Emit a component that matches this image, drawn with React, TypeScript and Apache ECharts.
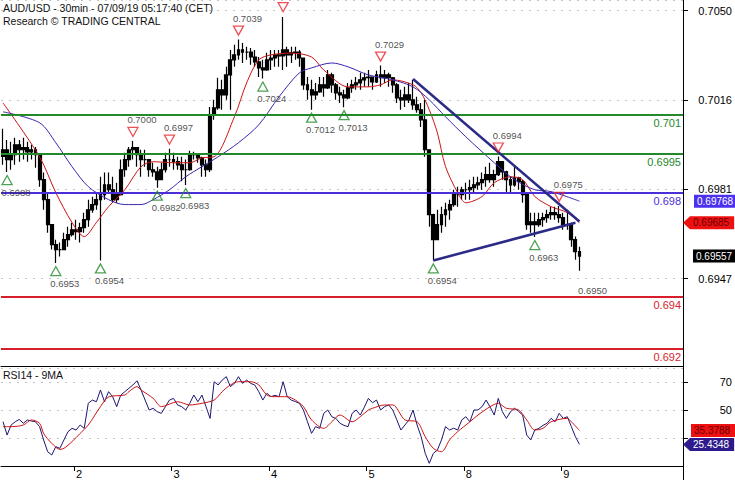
import { useEffect, useRef } from 'react';
import * as echarts from 'echarts';

// ---------- data ----------
const categoryCount = 168; // hourly slots (two 30-min bars each)
const dayTickIndex = [18, 42, 66, 90, 114, 138];
const dayTickLabel = ['2', '3', '4', '5', '8', '9'];

const firstOpen = 0.6994;
const priceHigh = [
  0.70047, 0.70004, 0.69997, 0.70012, 0.70004, 0.70012, 0.69997, 0.69985, 0.69977, 0.6995,
  0.69878, 0.69801, 0.6968, 0.6962, 0.69609, 0.69647, 0.6967, 0.69685, 0.69697, 0.69685,
  0.69724, 0.69774, 0.69785, 0.69801, 0.69862, 0.69878, 0.69878, 0.69862, 0.69839, 0.69928,
  0.69954, 0.69977, 0.7, 0.69977, 0.69966, 0.69966, 0.69928, 0.69916, 0.69901, 0.69916,
  0.69954, 0.6997, 0.69954, 0.69939, 0.69939, 0.69928, 0.69962, 0.69958, 0.6995, 0.69939,
  0.69928, 0.70131, 0.70158, 0.70243, 0.70235, 0.70285, 0.7035, 0.7037, 0.7039, 0.70377,
  0.70362, 0.70358, 0.7035, 0.70323, 0.70312, 0.70339, 0.7035, 0.7035, 0.7035, 0.70477,
  0.70362, 0.70362, 0.70362, 0.7035, 0.7032, 0.70246, 0.70235, 0.70223, 0.70246, 0.70246,
  0.70273, 0.70262, 0.70223, 0.70208, 0.70197, 0.70223, 0.70235, 0.70246, 0.70262, 0.70262,
  0.70273, 0.70246, 0.7027, 0.7029, 0.70273, 0.70262, 0.70246, 0.70223, 0.70197, 0.70208,
  0.70223, 0.70235, 0.7017, 0.70146, 0.70158, 0.69966, 0.6972, 0.69735, 0.69747, 0.69762,
  0.69774, 0.69812, 0.69824, 0.69824, 0.69839, 0.69851, 0.69862, 0.69862, 0.69878, 0.69901,
  0.69916, 0.69889, 0.6994, 0.69916, 0.69885, 0.69862, 0.69901, 0.69862, 0.69851, 0.69795,
  0.69724, 0.69724, 0.69724, 0.69724, 0.69735, 0.69747, 0.69747, 0.6975, 0.69724, 0.69735,
  0.69685, 0.69632, 0.69593,
];
const priceLow = [
  0.69908, 0.6988, 0.69889, 0.69908, 0.6992, 0.69928, 0.6992, 0.69928, 0.69897, 0.69824,
  0.69735, 0.69647, 0.69582, 0.6953, 0.69555, 0.69582, 0.69593, 0.69632, 0.6962, 0.69609,
  0.69647, 0.6967, 0.69724, 0.69735, 0.6954, 0.69774, 0.69801, 0.69762, 0.69762, 0.6979,
  0.69862, 0.69901, 0.69928, 0.69901, 0.69862, 0.69901, 0.69862, 0.69862, 0.6982, 0.69851,
  0.69878, 0.69901, 0.69889, 0.69889, 0.69845, 0.6983, 0.69885, 0.69928, 0.69916, 0.69862,
  0.69862, 0.6988, 0.70081, 0.7012, 0.7012, 0.70158, 0.7012, 0.70285, 0.70312, 0.703,
  0.70312, 0.70293, 0.70285, 0.70246, 0.7024, 0.7027, 0.70273, 0.70285, 0.70285, 0.70273,
  0.70285, 0.703, 0.70312, 0.70285, 0.70197, 0.70158, 0.7012, 0.70158, 0.70185, 0.7017,
  0.702, 0.70185, 0.70158, 0.70146, 0.7013, 0.7016, 0.70185, 0.70197, 0.70197, 0.70208,
  0.70208, 0.70197, 0.70223, 0.70208, 0.70223, 0.70208, 0.70185, 0.70146, 0.7012, 0.70131,
  0.70146, 0.7012, 0.70108, 0.70054, 0.69939, 0.6967, 0.6954, 0.6962, 0.69647, 0.6967,
  0.69697, 0.69747, 0.69747, 0.69774, 0.69774, 0.69774, 0.69801, 0.69812, 0.69812, 0.69824,
  0.69839, 0.69824, 0.69865, 0.69851, 0.69801, 0.69801, 0.69824, 0.69812, 0.69762, 0.69658,
  0.69647, 0.6963, 0.6967, 0.6967, 0.69685, 0.69697, 0.69697, 0.69685, 0.69658, 0.69658,
  0.69593, 0.69543, 0.695,
];
const priceClose = [
  0.69966, 0.69928, 0.69947, 0.69985, 0.69966, 0.69974, 0.69958, 0.69966, 0.69947, 0.69851,
  0.69774, 0.69678, 0.69601, 0.69582, 0.69582, 0.6962, 0.69639, 0.69658, 0.69651, 0.69666,
  0.69697, 0.69735, 0.69755, 0.69774, 0.69793, 0.69831, 0.69812, 0.69774, 0.69793, 0.69889,
  0.69928, 0.69966, 0.69974, 0.69947, 0.69928, 0.69928, 0.69889, 0.69881, 0.69851, 0.69889,
  0.69928, 0.69928, 0.6992, 0.69908, 0.69889, 0.69889, 0.6995, 0.69947, 0.69935, 0.69908,
  0.69889, 0.701, 0.70127, 0.70197, 0.70177, 0.70254, 0.70312, 0.70331, 0.7035, 0.70342,
  0.70342, 0.70323, 0.70304, 0.70281, 0.70273, 0.70312, 0.70319, 0.70331, 0.70327, 0.7035,
  0.70331, 0.70339, 0.70342, 0.70319, 0.70216, 0.70197, 0.70177, 0.70189, 0.70216, 0.70204,
  0.70254, 0.70216, 0.70185, 0.70177, 0.70166, 0.70204, 0.70216, 0.70223, 0.70235, 0.70243,
  0.70246, 0.70227, 0.70254, 0.70243, 0.70254, 0.70243, 0.70216, 0.70166, 0.70158, 0.70177,
  0.70158, 0.70139, 0.7012, 0.70081, 0.69966, 0.69716, 0.6962, 0.69678, 0.69716, 0.69735,
  0.69755, 0.69793, 0.69793, 0.69812, 0.69812, 0.6982, 0.69831, 0.69839, 0.69851, 0.6987,
  0.69851, 0.6987, 0.6992, 0.69881, 0.69851, 0.69831, 0.69858, 0.69843, 0.69793, 0.69678,
  0.69689, 0.69678, 0.69697, 0.69705, 0.69716, 0.69724, 0.69716, 0.69705, 0.69678, 0.69678,
  0.6962, 0.69574, 0.69557,
];

// moving averages, [slot, value]
const redMA = [
  [0, 0.70146], [9, 0.69939], [13, 0.69801], [17, 0.69686], [20, 0.69632], [23, 0.69686],
  [26, 0.69747], [30, 0.69812], [34, 0.69901], [37, 0.6992], [42, 0.69916], [46, 0.69916],
  [49, 0.69935], [52, 0.69939], [57, 0.70093], [60, 0.70223], [63, 0.70312], [66, 0.70331],
  [71, 0.70338], [76, 0.70323], [79, 0.70273], [85, 0.70208], [90, 0.70208], [93, 0.70216],
  [96, 0.70235], [101, 0.70216], [103, 0.70185], [105, 0.7012], [107, 0.70031], [109, 0.69901],
  [112, 0.69801], [114, 0.69762], [118, 0.69786], [121, 0.69839], [125, 0.69862], [128, 0.69851],
  [131, 0.69786], [135, 0.69747], [139, 0.69724], [142, 0.69685],
];
const blueMA = [
  [0, 0.70112], [9, 0.7007], [13, 0.69993], [17, 0.69901], [21, 0.69824], [26, 0.69774],
  [30, 0.69755], [34, 0.69755], [37, 0.69774], [41, 0.69812], [45, 0.69862], [49, 0.69901],
  [53, 0.69939], [58, 0.69993], [63, 0.70062], [68, 0.7017], [73, 0.70262], [76, 0.70281],
  [81, 0.703], [85, 0.70285], [90, 0.70254], [96, 0.70235], [101, 0.70208], [105, 0.70158],
  [109, 0.70093], [114, 0.70016], [121, 0.69916], [126, 0.69851], [131, 0.69812], [135, 0.69805],
  [142, 0.69768],
];

// swing markers (the 0.7048 label sits above the top edge in the reference, so it is not shown)
const lowMarkIndex = [1, 13, 24, 38, 45, 64, 76, 84, 106, 131];
const lowMarkValue = [0.6988, 0.6953, 0.6954, 0.6982, 0.6983, 0.7024, 0.7012, 0.7013, 0.6954, 0.6963];
const highMarkIndex = [32, 41, 58, 69, 93, 122, 137];
const highMarkValue = [0.7, 0.6997, 0.7039, 0.7048, 0.7029, 0.6994, 0.6975];
const highMarkLabelShown = [true, true, true, false, true, true, true];
const bareMarkIndex = [143];
const bareMarkValue = [0.695];

// support / resistance levels
const greenLevels = [0.701, 0.6995];
const blueLevels = [0.698];
const redLevels = [0.694, 0.692];

// trend lines [slot, value]
const trendDown = [[101, 0.70238], [142, 0.6969]];
const trendUp = [[106, 0.6954], [141, 0.69685]];

// RSI14 and its 9MA
const rsi = [
  41.6, 32.1, 39.3, 41.6, 43.3, 40.5, 42.9, 42.1, 41.6, 38.1,
  28.6, 20.2, 17.9, 23.8, 22.6, 28.6, 34.5, 36.9, 35.7, 39.3,
  36.9, 54.8, 57.1, 55.9, 64.3, 55.9, 63.1, 59.5, 52.4, 60.7,
  63.1, 65.5, 67.9, 70.9, 64.3, 57.1, 50, 51.2, 48.8, 47.6,
  52.4, 57.1, 58.3, 53.6, 52.4, 50, 54.8, 60.7, 55.9, 60.7,
  52.4, 44, 70.2, 67.9, 71.4, 73.8, 66.7, 69, 73.8, 69,
  71.4, 69, 67.9, 63.1, 57.1, 61.9, 59.5, 60.5, 59.5, 70.2,
  59.5, 57.1, 56, 54.8, 50, 41.6, 33.3, 38.1, 36.9, 47.6,
  50, 45.2, 44, 40.5, 39, 38.1, 47.6, 50, 46.4, 52,
  58.3, 55.2, 57.1, 50, 52.4, 53.6, 50, 43, 35.7, 39.3,
  42.9, 50, 39.3, 30.9, 19, 11.9, 19, 21.4, 28.6, 38.1,
  35.7, 37, 35.7, 42.9, 45.2, 41.6, 50, 50, 52.4, 57.1,
  52, 46.4, 58.3, 48.8, 44, 48.8, 51.2, 49, 46.4, 32.1,
  28.6, 35.7, 36.9, 39, 40.5, 44, 41.6, 47.6, 44, 45.2,
  38.1, 30.9, 25.4348,
];
const rsiMA = [
  [0, 38.1], [2, 38.1], [5, 39.3], [7, 42.9], [9, 40.5], [10, 33.3], [12, 26.2], [14, 21.9],
  [15, 22.6], [17, 27.4], [19, 33.3], [21, 39.3], [24, 52.4], [26, 59.3], [30, 60.7], [31, 63.1],
  [33, 66.7], [34, 64.3], [37, 58.3], [39, 52.4], [43, 55.9], [46, 53.6], [49, 54.8], [52, 57.1],
  [54, 63.1], [56, 67.9], [58, 70.2], [61, 70.2], [63, 67.9], [65, 60.7], [67, 59.5], [70, 59.5],
  [72, 57.1], [74, 52.4], [76, 42.9], [79, 36.9], [81, 41.6], [83, 46.4], [86, 41.6], [88, 45.2],
  [90, 50], [91, 51.2], [94, 53.6], [96, 53.6], [99, 42.9], [102, 41.6], [104, 30.9], [106, 22.6],
  [108, 20.2], [110, 28.6], [112, 34.5], [115, 41.6], [117, 46.4], [120, 52.4], [122, 54.8],
  [124, 51.2], [127, 50], [129, 42.9], [131, 35.7], [133, 36.9], [135, 41.6], [139, 44],
  [140, 41.6], [142, 35.3788],
];

// axis ticks
const priceTickInterval = 0.6947 / 202;
const priceMin = priceTickInterval * 201;
const priceMax = 0.705423;
const rsiTickValues = [30, 50, 70];
const rsiLabelValues = [50, 70];

// ---------- styling ----------
const FONT = 'Liberation Sans';
const GRID_LEFT = 1;
const GRID_WIDTH = 682;
const AXIS_X = GRID_LEFT + GRID_WIDTH;
const GREEN = '#23892a';
const LEVEL_BLUE = '#4a2fd8';
const RED = '#d81e2a';
const TREND = '#2b2a86';
const GRID_LINE = { color: '#c4c4c4', type: [2, 6] as number[], width: 1 };

export default function App() {
  const ref = useRef<HTMLDivElement>(null);

  useEffect(() => {
    document.body.style.margin = '0';
    const chart = echarts.init(ref.current!, undefined, { renderer: 'svg' });
    const categories = Array.from({ length: categoryCount }, (_, i) => String(i));
    const candles = priceClose.map((c, i) => [
      i === 0 ? firstOpen : priceClose[i - 1],
      c,
      priceLow[i],
      priceHigh[i],
    ]);
    const lastClose = priceClose[priceClose.length - 1];
    const lastRed = redMA[redMA.length - 1][1];
    const lastBlue = blueMA[blueMA.length - 1][1];
    const lastRsi = rsi[rsi.length - 1];
    const lastRsiMA = rsiMA[rsiMA.length - 1][1];

    const levelItem = (v: number, color: string) => ({
      yAxis: v,
      lineStyle: { color, width: 2, type: 'solid' },
      label: {
        show: true,
        position: 'insideEndBottom',
        formatter: () => String(v),
        color,
        fontSize: 11,
        fontFamily: FONT,
        distance: [2, 3],
      },
    });
    const trendItem = (pts: number[][]) => [
      { coord: pts[0], lineStyle: { color: TREND, width: 2.5, type: 'solid' }, label: { show: false } },
      { coord: pts[1] },
    ];
    const boxItem = (
      v: number,
      text: string,
      bg: string,
      fg: string,
      distance: number,
    ) => ({
      yAxis: v,
      lineStyle: { color: 'rgba(255,255,255,0)', width: 1, type: 'solid' },
      label: {
        show: true,
        position: 'end',
        distance,
        formatter: () => text,
        backgroundColor: bg,
        color: fg,
        opacity: 1,
        fontSize: 10,
        fontFamily: FONT,
        lineHeight: 11,
        padding: [1, 5, 1, 3],
      },
    });

    const markerLabel = (pos: 'top' | 'bottom') => ({
      show: true,
      position: pos,
      distance: 2,
      offset: [9, 0],
      formatter: (p: any) => p.value[1].toFixed(4),
      fontSize: 9.5,
      fontFamily: FONT,
      color: '#222',
    });

    const option: any = {
      animation: false,
      backgroundColor: '#fff',
      textStyle: { fontFamily: FONT },
      title: [
        {
          text: 'AUD/USD - 30min - 07/09/19 05:17:40 (CET)',
          subtext: 'Research © TRADING CENTRAL',
          left: 3,
          top: 2,
          padding: 0,
          itemGap: 1,
          textStyle: { fontSize: 10.5, fontWeight: 'normal', color: '#111', fontFamily: FONT, lineHeight: 12 },
          subtextStyle: { fontSize: 10.5, color: '#111', fontFamily: FONT, lineHeight: 12 },
        },
        {
          text: 'RSI14 - 9MA',
          left: 3,
          top: 369,
          padding: 0,
          textStyle: { fontSize: 10.5, fontWeight: 'normal', color: '#111', fontFamily: FONT },
        },
      ],
      grid: [
        { left: GRID_LEFT, top: 0, width: GRID_WIDTH, height: 368 },
        { left: GRID_LEFT, top: 366, width: GRID_WIDTH, height: 100 },
      ],
      xAxis: [
        { type: 'category', gridIndex: 0, data: categories, show: false },
        {
          type: 'category',
          gridIndex: 1,
          data: categories,
          position: 'bottom',
          axisLine: { show: true, lineStyle: { color: '#000', width: 1 } },
          axisTick: {
            show: true,
            length: 5,
            interval: (i: number) => dayTickIndex.includes(i),
            lineStyle: { color: '#000' },
          },
          axisLabel: {
            interval: (i: number) => dayTickIndex.includes(i),
            formatter: (_v: string, i: number) => dayTickLabel[dayTickIndex.indexOf(i)] ?? '',
            align: 'left',
            margin: 2,
            fontSize: 11,
            color: '#000',
            fontFamily: FONT,
          },
          splitLine: { show: false },
        },
        {
          type: 'category',
          gridIndex: 1,
          data: categories,
          position: 'top',
          axisLine: { show: true, lineStyle: { color: '#000', width: 1 } },
          axisTick: { show: false },
          axisLabel: { show: false },
        },
      ],
      yAxis: [
        {
          type: 'value',
          gridIndex: 0,
          position: 'right',
          min: priceMin,
          max: priceMax,
          interval: priceTickInterval,
          axisLine: { show: false },
          axisTick: { show: true, length: 5, lineStyle: { color: '#000' } },
          axisLabel: {
            formatter: (v: number) => v.toFixed(4),
            showMinLabel: false,
            showMaxLabel: false,
            align: 'right',
            margin: 49,
            fontSize: 11,
            color: '#000',
            fontFamily: FONT,
          },
          splitLine: { show: true, lineStyle: GRID_LINE },
        },
        {
          type: 'value',
          gridIndex: 1,
          position: 'right',
          min: 10,
          max: 81.43,
          axisLine: { show: false },
          axisTick: { show: true, length: 5, customValues: rsiTickValues, lineStyle: { color: '#000' } },
          axisLabel: {
            customValues: rsiLabelValues,
            align: 'right',
            margin: 49,
            fontSize: 11,
            color: '#000',
            fontFamily: FONT,
          },
          splitLine: { show: true, lineStyle: GRID_LINE },
        },
      ],
      series: [
        {
          name: 'AUD/USD',
          type: 'candlestick',
          xAxisIndex: 0,
          yAxisIndex: 0,
          data: candles,
          barWidth: 3.4,
          z: 2,
          itemStyle: { color: '#000', color0: '#000', borderColor: '#000', borderColor0: '#000', borderWidth: 1.2 },
          markLine: {
            silent: true,
            symbol: ['none', 'none'],
            precision: 6,
            animation: false,
            data: [
              ...greenLevels.map((v) => levelItem(v, GREEN)),
              ...blueLevels.map((v) => levelItem(v, LEVEL_BLUE)),
              ...redLevels.map((v) => levelItem(v, RED)),
              trendItem(trendDown),
              trendItem(trendUp),
              boxItem(lastClose, lastClose.toFixed(5), '#000', '#fff', 10),
            ],
          },
        },
        {
          name: 'MA fast',
          type: 'line',
          xAxisIndex: 0,
          yAxisIndex: 0,
          data: redMA,
          smooth: 0.3,
          showSymbol: false,
          symbol: 'none',
          z: 3,
          lineStyle: { color: '#cc1414', width: 1 },
          markLine: {
            silent: true,
            symbol: ['none', 'none'],
            precision: 6,
            data: [boxItem(lastRed, lastRed.toFixed(5), '#ee1111', '#6a0000', 7)],
          },
        },
        {
          name: 'MA slow',
          type: 'line',
          xAxisIndex: 0,
          yAxisIndex: 0,
          data: blueMA,
          smooth: 0.3,
          showSymbol: false,
          symbol: 'none',
          z: 3,
          lineStyle: { color: '#3a26b0', width: 1 },
          markLine: {
            silent: true,
            symbol: ['none', 'none'],
            precision: 6,
            data: [boxItem(lastBlue, lastBlue.toFixed(5), '#4b31ee', '#fff', 11)],
          },
        },
        {
          name: 'swing lows',
          type: 'scatter',
          xAxisIndex: 0,
          yAxisIndex: 0,
          z: 5,
          data: lowMarkIndex.map((x, k) => [x, lowMarkValue[k]]),
          symbol: 'path://M5 0 L10 9 L0 9 Z',
          symbolSize: [10, 9],
          symbolOffset: [0, 8],
          itemStyle: { color: 'rgba(0,0,0,0)', borderColor: GREEN, borderWidth: 1.3 },
          label: markerLabel('bottom'),
        },
        {
          name: 'swing highs',
          type: 'scatter',
          xAxisIndex: 0,
          yAxisIndex: 0,
          z: 5,
          data: highMarkIndex.map((x, k) => ({
            value: [x, highMarkValue[k]],
            label: { show: highMarkLabelShown[k] },
          })),
          symbol: 'path://M0 0 L10 0 L5 9 Z',
          symbolSize: [10, 9],
          symbolOffset: [0, -9],
          itemStyle: { color: 'rgba(0,0,0,0)', borderColor: '#e8242c', borderWidth: 1.3 },
          label: markerLabel('top'),
        },
        {
          name: 'pending low',
          type: 'scatter',
          xAxisIndex: 0,
          yAxisIndex: 0,
          z: 5,
          data: bareMarkIndex.map((x, k) => [x, bareMarkValue[k]]),
          symbol: 'path://M5 0 L10 9 L0 9 Z',
          symbolSize: [10, 9],
          symbolOffset: [0, 8],
          itemStyle: { color: 'rgba(0,0,0,0)', borderColor: 'rgba(0,0,0,0)', borderWidth: 0 },
          label: markerLabel('bottom'),
        },
        {
          name: 'RSI14',
          type: 'line',
          xAxisIndex: 1,
          yAxisIndex: 1,
          data: rsi,
          showSymbol: false,
          symbol: 'none',
          z: 3,
          lineStyle: { color: '#1c1670', width: 1 },
          markLine: {
            silent: true,
            symbol: ['none', 'none'],
            precision: 6,
            data: [boxItem(lastRsi, lastRsi.toFixed(4), '#2e1a8c', '#fff', 7)],
          },
        },
        {
          name: '9MA',
          type: 'line',
          xAxisIndex: 1,
          yAxisIndex: 1,
          data: rsiMA,
          smooth: 0.3,
          showSymbol: false,
          symbol: 'none',
          z: 3,
          lineStyle: { color: '#cc1414', width: 1 },
          markLine: {
            silent: true,
            symbol: ['none', 'none'],
            precision: 6,
            data: [boxItem(lastRsiMA, lastRsiMA.toFixed(4), '#ee1111', '#6a0000', 8)],
          },
        },
      ],
    };
    chart.setOption(option);

    const redY = chart.convertToPixel({ yAxisIndex: 0 }, lastRed) as unknown as number;
    const rsiY = chart.convertToPixel({ yAxisIndex: 1 }, lastRsi) as unknown as number;
    chart.setOption({
      graphic: [
        {
          id: 'rightAxis',
          type: 'line',
          shape: { x1: AXIS_X + 0.5, y1: 0, x2: AXIS_X + 0.5, y2: 480 },
          style: { stroke: '#000', lineWidth: 1 },
          z: 50,
        },
        {
          id: 'arrowRed',
          type: 'polygon',
          shape: { points: [[AXIS_X, redY], [AXIS_X + 7, redY - 6.5], [AXIS_X + 7, redY + 6.5]] },
          style: { fill: '#ee1111' },
          z: 60,
        },
        {
          id: 'arrowRsi',
          type: 'polygon',
          shape: { points: [[AXIS_X, rsiY], [AXIS_X + 7, rsiY - 6.5], [AXIS_X + 7, rsiY + 6.5]] },
          style: { fill: '#2e1a8c' },
          z: 60,
        },
      ],
    });

    return () => chart.dispose();
  }, []);

  return (
    <div
      ref={ref}
      style={{ position: 'fixed', left: 0, top: 0, width: 735, height: 480, background: '#fff' }}
    />
  );
}
